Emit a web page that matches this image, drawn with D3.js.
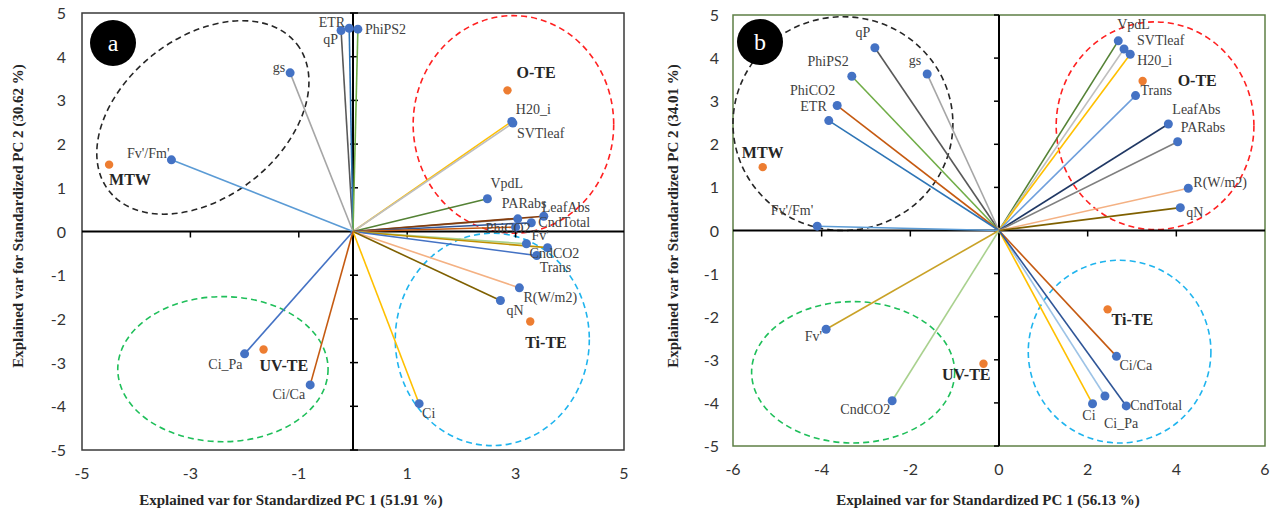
<!DOCTYPE html>
<html>
<head>
<meta charset="utf-8">
<script src="https://cdn.jsdelivr.net/npm/d3@7"></script>
<style>
  body { margin: 0; background: #fff; }
  .tick-label { font-family: Lato, "Liberation Sans", sans-serif; font-size: 16px; fill: #333; }
  .var-label { font-family: "Liberation Serif", "Times New Roman", serif; font-size: 14px; fill: #404040; }
  .grp-label { font-family: "Liberation Serif", "Times New Roman", serif; font-size: 16px; font-weight: bold; fill: #262626; }
  .axis-title { font-family: "Liberation Serif", "Times New Roman", serif; font-size: 15px; font-weight: bold; fill: #262626; }
</style>
</head>
<body>
<svg width="1282" height="515"></svg>
<script>
// ---- panel a data ----
var varsA = ["qP", "ETR", "PhiPS2", "gs", "Fv'/Fm'", "H20_i", "SVTleaf", "VpdL", "PARabs", "LeafAbs",
             "CndTotal", "PhiCO2", "Fv'", "CndCO2", "Trans", "R(W/m2)", "qN", "Ci", "Ci_Pa", "Ci/Ca"];
var pc1A = [-0.22, -0.07, 0.09, -1.16, -3.35, 2.93, 2.95, 2.48, 3.04, 3.52,
            3.29, 3.00, 3.20, 3.59, 3.39, 3.07, 2.72, 1.22, -2.00, -0.79];
var pc2A = [4.60, 4.65, 4.63, 3.63, 1.64, 2.52, 2.48, 0.75, 0.29, 0.35,
            0.20, 0.10, -0.28, -0.37, -0.55, -1.29, -1.58, -3.94, -2.80, -3.51];
var groupsA = ["MTW", "O-TE", "Ti-TE", "UV-TE"];
var grpPc1A = [-4.50, 2.85, 3.27, -1.65];
var grpPc2A = [1.53, 3.23, -2.06, -2.70];
var xTicksA = [-5, -3, -1, 1, 3, 5];
var yTicksA = [-5, -4, -3, -2, -1, 0, 1, 2, 3, 4, 5];

// ---- panel b data ----
var varsB = ["qP", "PhiPS2", "gs", "PhiCO2", "ETR", "Fv'/Fm'", "Fv'", "CndCO2", "VpdL", "SVTleaf",
             "H20_i", "Trans", "LeafAbs", "PARabs", "R(W/m2)", "qN", "Ci/Ca", "Ci_Pa", "Ci", "CndTotal"];
var pc1B = [-2.80, -3.32, -1.62, -3.65, -3.84, -4.10, -3.90, -2.41, 2.69, 2.82,
            2.96, 3.08, 3.82, 4.03, 4.27, 4.09, 2.65, 2.39, 2.11, 2.87];
var pc2B = [4.24, 3.58, 3.63, 2.90, 2.55, 0.10, -2.29, -3.95, 4.40, 4.21,
            4.09, 3.13, 2.47, 2.06, 0.98, 0.53, -2.92, -3.84, -4.02, -4.07];
var groupsB = ["MTW", "O-TE", "Ti-TE", "UV-TE"];
var grpPc1B = [-5.33, 3.24, 2.45, -0.35];
var grpPc2B = [1.47, 3.47, -1.83, -3.09];
var xTicksB = [-6, -4, -2, 0, 2, 4, 6];
var yTicksB = [-5, -4, -3, -2, -1, 0, 1, 2, 3, 4, 5];

// line colours per variable
var lineColor = {
  "qP": "#595959", "ETR": "#2e75b6", "PhiPS2": "#70ad47", "gs": "#a6a6a6", "Fv'/Fm'": "#5b9bd5",
  "H20_i": "#ffc000", "SVTleaf": "#bfbfbf", "VpdL": "#548235", "PARabs": "#7f7f7f", "LeafAbs": "#203864",
  "CndTotal": "#2f5597", "PhiCO2": "#c55a11", "Fv'": "#c9a227", "CndCO2": "#a9d18e", "Trans": "#6f9fdc",
  "R(W/m2)": "#f4b183", "qN": "#7f6000", "Ci": "#ffc000", "Ci_Pa": "#9dc3e6", "Ci/Ca": "#c55a11"
};
var lineColorA = Object.assign({}, lineColor, {"Ci_Pa": "#4472c4", "Trans": "#4472c4", "LeafAbs": "#843c0c", "Fv'": "#a9d18e", "CndCO2": "#bf9000"});

// label placement [dx, dy, anchor]
var labA = {
  "qP": [-3, 14, "end"], "ETR": [-4, -1, "end"], "PhiPS2": [7, 5, "start"], "gs": [-5, -1, "end"],
  "Fv'/Fm'": [-2, -2, "end"], "H20_i": [4, -7, "start"], "SVTleaf": [4, 15, "start"], "VpdL": [3, -11, "start"],
  "PARabs": [-16, -11, "start"], "LeafAbs": [-2, -4, "start"], "CndTotal": [7, 4, "start"], "PhiCO2": [-30, 6, "start"],
  "Fv'": [5, -4, "start"], "CndCO2": [-18, 10, "start"], "Trans": [3, 16, "start"], "R(W/m2)": [4, 14, "start"],
  "qN": [6, 14, "start"], "Ci": [3, 14, "start"], "Ci_Pa": [-2, 15, "end"], "Ci/Ca": [-5, 14, "end"]
};
var grpLabA = {"MTW": [0, 20, "start"], "O-TE": [9, -12, "start"], "Ti-TE": [-5, 26, "start"], "UV-TE": [-4, 22, "start"]};
var labB = {
  "qP": [-12, -11, "middle"], "PhiPS2": [-3, -10, "end"], "gs": [-6, -9, "end"], "PhiCO2": [-2, -11, "end"],
  "ETR": [-2, -10, "end"], "Fv'/Fm'": [-4, -11, "end"], "Fv'": [-4, 12, "end"], "CndCO2": [-2, 13, "end"],
  "VpdL": [-1, -12, "start"], "SVTleaf": [13, -4, "start"], "H20_i": [7, 11, "start"], "Trans": [5, -1, "start"],
  "LeafAbs": [4, -10, "start"], "PARabs": [3, -10, "start"], "R(W/m2)": [5, -1, "start"], "qN": [6, 9, "start"],
  "Ci/Ca": [3, 14, "start"], "Ci_Pa": [-1, 32, "start"], "Ci": [3, 16, "end"], "CndTotal": [4, 4, "start"]
};
var grpLabB = {"MTW": [0, -9, "middle"], "O-TE": [35, 5, "start"], "Ti-TE": [4, 16, "start"], "UV-TE": [7, 16, "end"]};

// dashed group ellipses: cx, cy, rx, ry in data units, rotation in degrees
var ellA = [
  {cx: -2.77, cy: 2.61, rx: 2.20, ry: 1.83, rot: -38, color: "#262626"},
  {cx: 2.96, cy: 2.45, rx: 1.85, ry: 2.49, rot: 0, color: "#ff2020"},
  {cx: 2.57, cy: -2.47, rx: 1.79, ry: 2.43, rot: 0, color: "#1fb4ee"},
  {cx: -2.40, cy: -3.15, rx: 1.94, ry: 1.66, rot: 0, color: "#1fbf5a"}
];
var ellB = [
  {cx: -3.52, cy: 2.48, rx: 2.48, ry: 2.48, rot: 0, color: "#262626"},
  {cx: 3.52, cy: 2.43, rx: 2.23, ry: 2.41, rot: 0, color: "#ff2020"},
  {cx: 2.72, cy: -2.81, rx: 2.06, ry: 2.12, rot: 0, color: "#1fb4ee"},
  {cx: -3.29, cy: -3.29, rx: 2.29, ry: 1.64, rot: 0, color: "#1fbf5a"}
];

var svg = d3.select("svg");

function drawPanel(p) {
  var x = d3.scaleLinear().domain(p.xDom).range([p.left, p.right]);
  var y = d3.scaleLinear().domain([-5, 5]).range([p.bottom, p.top]);
  var g = svg.append("g");

  // frame
  g.append("rect")
    .attr("x", p.left).attr("y", p.top)
    .attr("width", p.right - p.left).attr("height", p.bottom - p.top)
    .attr("fill", "none").attr("stroke", p.frame).attr("stroke-width", 1.5);

  // tick labels at the frame
  g.selectAll(".xl").data(p.xTicks).enter().append("text")
    .attr("class", "tick-label").attr("text-anchor", "middle")
    .attr("x", d => x(d)).attr("y", p.bottom + 29)
    .text(d => d);
  g.selectAll(".yl").data(p.yTicks).enter().append("text")
    .attr("class", "tick-label").attr("text-anchor", "end")
    .attr("x", p.left - p.yLabGap).attr("y", d => y(d) + 6)
    .text(d => d);

  // ellipses
  p.ell.forEach(function(e) {
    g.append("ellipse")
      .attr("cx", x(e.cx)).attr("cy", y(e.cy))
      .attr("rx", x(e.rx) - x(0)).attr("ry", y(0) - y(e.ry))
      .attr("transform", "rotate(" + e.rot + "," + x(e.cx) + "," + y(e.cy) + ")")
      .attr("fill", "none").attr("stroke", e.color)
      .attr("stroke-width", 1.6).attr("stroke-dasharray", "6,4");
  });

  // zero axes with cross ticks
  g.append("line").attr("x1", p.left).attr("x2", p.right).attr("y1", y(0)).attr("y2", y(0))
    .attr("stroke", "#000").attr("stroke-width", 2);
  g.append("line").attr("x1", x(0)).attr("x2", x(0)).attr("y1", p.top).attr("y2", p.bottom)
    .attr("stroke", "#000").attr("stroke-width", 2);
  g.selectAll(".xt").data(p.xTicks.filter(d => d > p.xDom[0] && d < p.xDom[1] && d !== 0)).enter().append("line")
    .attr("x1", d => x(d)).attr("x2", d => x(d)).attr("y1", y(0)).attr("y2", y(0) + 6)
    .attr("stroke", "#000").attr("stroke-width", 1.5);
  g.selectAll(".yt").data(p.yTicks).enter().append("line")
    .attr("x1", x(0) - p.yTickL).attr("x2", x(0) + p.yTickR).attr("y1", d => y(d)).attr("y2", d => y(d))
    .attr("stroke", "#000").attr("stroke-width", 1.5);

  // loading vectors
  var rows = p.vars.map((v, i) => ({name: v, pc1: p.pc1[i], pc2: p.pc2[i]}));
  g.selectAll(".vec").data(rows).enter().append("line")
    .attr("x1", x(0)).attr("y1", y(0))
    .attr("x2", d => x(d.pc1)).attr("y2", d => y(d.pc2))
    .attr("stroke", d => p.colors[d.name]).attr("stroke-width", 1.6);
  g.selectAll(".pt").data(rows).enter().append("circle")
    .attr("cx", d => x(d.pc1)).attr("cy", d => y(d.pc2)).attr("r", 4.5)
    .attr("fill", "#4472c4");
  g.selectAll(".vl").data(rows).enter().append("text")
    .attr("class", "var-label")
    .attr("x", d => x(d.pc1) + p.lab[d.name][0])
    .attr("y", d => y(d.pc2) + p.lab[d.name][1])
    .attr("text-anchor", d => p.lab[d.name][2])
    .text(d => d.name);

  // group scores
  var grps = p.groups.map((v, i) => ({name: v, pc1: p.gpc1[i], pc2: p.gpc2[i]}));
  g.selectAll(".gp").data(grps).enter().append("circle")
    .attr("cx", d => x(d.pc1)).attr("cy", d => y(d.pc2)).attr("r", 4.2)
    .attr("fill", "#ed7d31");
  g.selectAll(".gl").data(grps).enter().append("text")
    .attr("class", "grp-label")
    .attr("x", d => x(d.pc1) + p.glab[d.name][0])
    .attr("y", d => y(d.pc2) + p.glab[d.name][1])
    .attr("text-anchor", d => p.glab[d.name][2])
    .text(d => d.name);

  // panel letter
  g.append("circle").attr("cx", p.badge[0]).attr("cy", p.badge[1]).attr("r", 23).attr("fill", "#000");
  g.append("text").attr("x", p.badge[0]).attr("y", p.badge[1] + 8)
    .attr("text-anchor", "middle").attr("fill", "#fff")
    .style("font-family", "'Liberation Serif', serif").style("font-size", "24px")
    .text(p.letter);

  // axis titles
  g.append("text").attr("class", "axis-title").attr("text-anchor", "middle")
    .attr("x", p.xTitle[0]).attr("y", p.xTitle[1]).text(p.xTitleText);
  g.append("text").attr("class", "axis-title").attr("text-anchor", "middle")
    .attr("transform", "translate(" + p.yTitle[0] + "," + p.yTitle[1] + ") rotate(-90)")
    .text(p.yTitleText);
}

drawPanel({
  left: 82, right: 624, top: 13, bottom: 450, xDom: [-5, 5],
  xTicks: xTicksA, yTicks: yTicksA, frame: "#3a3a3a", yLabGap: 16, yTickL: 3, yTickR: 5,
  vars: varsA, pc1: pc1A, pc2: pc2A, colors: lineColorA, lab: labA,
  groups: groupsA, gpc1: grpPc1A, gpc2: grpPc2A, glab: grpLabA, ell: ellA,
  badge: [113, 43], letter: "a",
  xTitle: [291, 505], xTitleText: "Explained var for Standardized PC 1 (51.91 %)",
  yTitle: [23, 216], yTitleText: "Explained var for Standardized PC 2 (30.62 %)"
});

drawPanel({
  left: 733, right: 1265, top: 15, bottom: 446, xDom: [-6, 6],
  xTicks: xTicksB, yTicks: yTicksB, frame: "#5e7f45", yLabGap: 14, yTickL: 5, yTickR: 0,
  vars: varsB, pc1: pc1B, pc2: pc2B, colors: lineColor, lab: labB,
  groups: groupsB, gpc1: grpPc1B, gpc2: grpPc2B, glab: grpLabB, ell: ellB,
  badge: [760, 42], letter: "b",
  xTitle: [988, 505], xTitleText: "Explained var for Standardized PC 1 (56.13 %)",
  yTitle: [678, 216], yTitleText: "Explained var for Standardized PC 2 (34.01 %)"
});
</script>
</body>
</html>
